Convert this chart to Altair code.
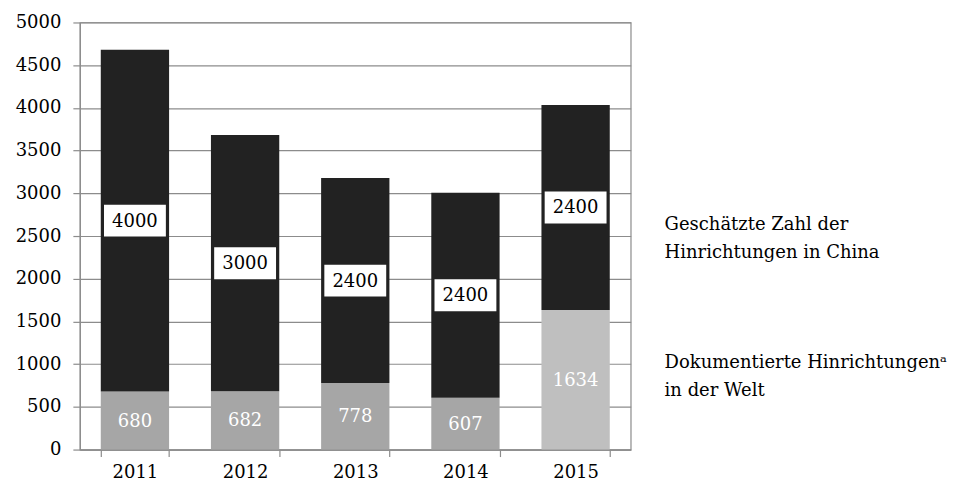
import altair as alt
import pandas as pd

years = ["2011", "2012", "2013", "2014", "2015"]
world = [680, 682, 778, 607, 1634]
china = [4000, 3000, 2400, 2400, 2400]
world_shade = ["w", "w", "w", "w", "w2015"]
legend_lines = [["Geschätzte Zahl der", "Hinrichtungen in China"],
                ["Dokumentierte Hinrichtungenᵃ", "in der Welt"]]

rows = []
for y, w, c, s in zip(years, world, china, world_shade):
    rows.append({"year": y, "series": "world", "shade": s, "y0": 0, "y1": w,
                 "mid": w / 2, "label": str(w)})
    rows.append({"year": y, "series": "china", "shade": "c", "y0": w, "y1": w + c,
                 "mid": w + c / 2, "label": str(c)})
df = pd.DataFrame(rows)

FONT = "DejaVu Serif"

x = alt.X("year:N", title=None,
          scale=alt.Scale(paddingInner=0.38, paddingOuter=0.19),
          axis=alt.Axis(labelAngle=0, labelFontSize=18, labelFont=FONT,
                        labelColor="black", domainColor="#8c8c8c",
                        tickColor="#8c8c8c", tickSize=7, tickBand="extent",
                        labelPadding=7, grid=False))
yenc = alt.Y("y0:Q", title=None,
             scale=alt.Scale(domain=[0, 5000], nice=False),
             axis=alt.Axis(values=list(range(0, 5001, 500)), format="d",
                           labelFontSize=18,
                           labelFont=FONT, labelColor="black",
                           domainColor="#8c8c8c", tickColor="#8c8c8c",
                           tickSize=7, labelPadding=12, gridColor="#8c8c8c",
                           gridWidth=1.2))

base = alt.Chart(df)

bars = base.mark_bar(stroke=None).encode(
    x=x, y=yenc, y2="y1:Q",
    color=alt.Color("shade:N", legend=None,
                    scale=alt.Scale(domain=["w", "w2015", "c"],
                                    range=["#a6a6a6", "#bfbfbf", "#222222"])),
)

boxes = base.transform_filter(alt.datum.series == "china").mark_point(
    shape="M-1,-0.516L1,-0.516L1,0.516L-1,0.516Z", filled=True,
    fill="white", stroke=None, opacity=1, size=3844,
).encode(x=alt.X("year:N"), y=alt.Y("mid:Q"))

top_text = base.transform_filter(alt.datum.series == "china").mark_text(
    font=FONT, fontSize=18, color="black", baseline="middle", dy=1,
).encode(x=alt.X("year:N"), y=alt.Y("mid:Q"), text="label:N")

bot_text = base.transform_filter(alt.datum.series == "world").mark_text(
    font=FONT, fontSize=18, color="white", baseline="middle", dy=1,
).encode(x=alt.X("year:N"), y=alt.Y("mid:Q"), text="label:N")

legend_y = [225, 363]
legend_layers = []
for txt, yp in zip(legend_lines, legend_y):
    legend_layers.append(
        alt.Chart(pd.DataFrame({"t": [txt]})).mark_text(
            font=FONT, fontSize=18, color="black", align="left",
            baseline="middle", lineHeight=28,
        ).encode(x=alt.value(586), y=alt.value(yp - 22), text="t")
    )

chart = alt.layer(bars, boxes, top_text, bot_text, *legend_layers).properties(
    width=552, height=428,
    autosize=alt.AutoSizeParams(type="none"),
    padding={"left": 72, "top": 14, "right": 328, "bottom": 34},
).configure_view(stroke="#8c8c8c", strokeWidth=1.2).configure_axis(
    domainWidth=1.2, tickWidth=1.2)

chart.save("out.html", embed_options={"renderer": "svg", "actions": False})
